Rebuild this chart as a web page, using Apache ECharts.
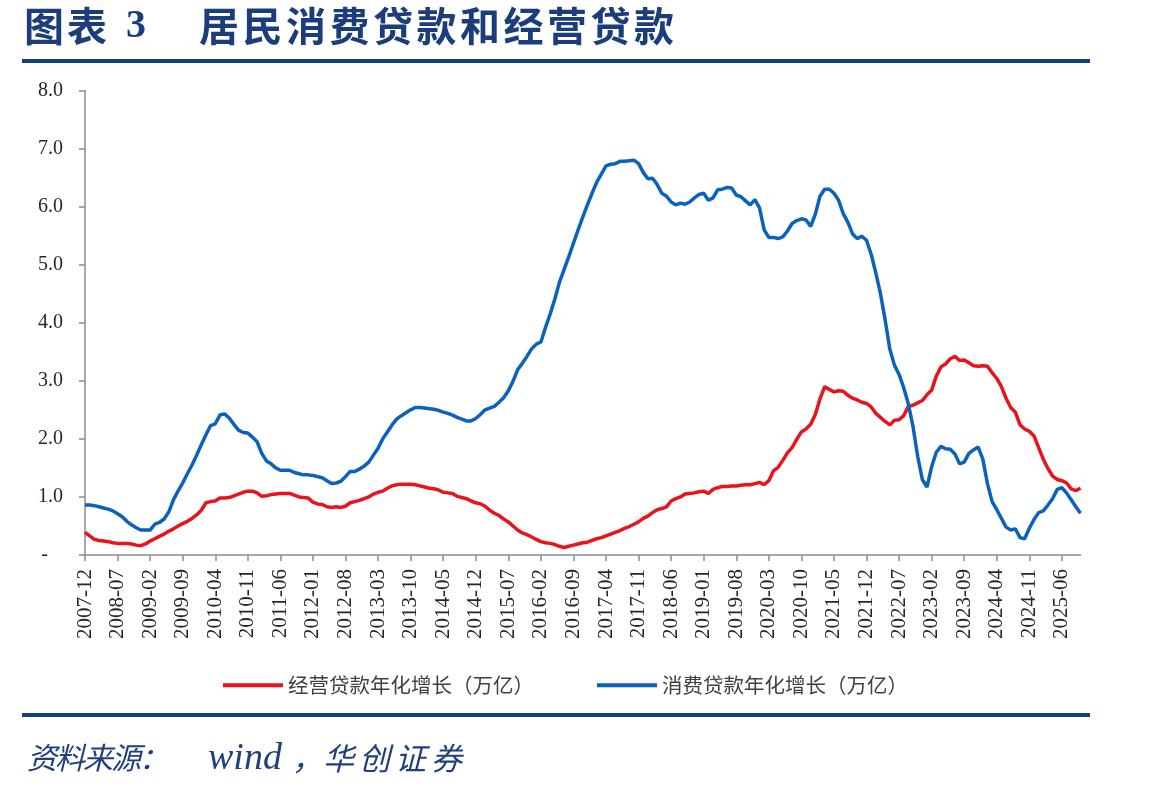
<!DOCTYPE html>
<meta charset="utf-8">
<style>
body { margin: 0; background: #fff; }
#main { position: absolute; left: 0; top: 0; width: 1149px; height: 792px; }
.rule { position: absolute; left: 22px; width: 1068px; height: 4px; background: #133f7f; }
.t { position: absolute; white-space: nowrap; line-height: 1; color: #1b3d7b; }
.title { font-family: "Noto Sans CJK SC"; font-weight: bold; font-size: 40px; top: 4px; }
.src { font-family: "Noto Sans CJK SC"; font-style: italic; color: #1f3f7d; }
</style>

<div id="main"></div>
<div class="t title" style="left:24px; letter-spacing:3px;">图表</div>
<div class="t title" style="left:126px; font-family:'Liberation Serif';">3</div>
<div class="t title" style="left:199px; letter-spacing:3.5px;">居民消费贷款和经营贷款</div>
<div class="rule" style="top:59px;"></div>
<div class="rule" style="top:713px;"></div>
<div class="t src" style="left:27px; top:741px; font-size:30px; letter-spacing:-2px;">资料来源：</div>
<div class="t src" style="left:208px; top:737px; font-size:38px; font-family:'Liberation Serif';">wind</div>
<div class="t src" style="left:292px; top:741px; font-size:31px;">，</div>
<div class="t src" style="left:323px; top:741px; font-size:31px; letter-spacing:5px;">华创证券</div>

<script src="https://cdn.jsdelivr.net/npm/echarts@6/dist/echarts.min.js"></script>
<script>

// 经营贷款年化增长（万亿），2007-12 起按月
var businessLoan = [
    0.39,
    0.33, 0.27, 0.25, 0.24, 0.23, 0.21, 0.20, 0.20, 0.20, 0.19, 0.17, 0.16,
    0.19, 0.24, 0.28, 0.32, 0.36, 0.41, 0.45, 0.50, 0.54, 0.58, 0.63, 0.69,
    0.77, 0.90, 0.92, 0.93, 0.98, 0.98, 0.99, 1.02, 1.05, 1.08, 1.10, 1.10,
    1.07, 1.01, 1.02, 1.04, 1.05, 1.06, 1.06, 1.06, 1.03, 1.00, 0.99, 0.98,
    0.91, 0.88, 0.87, 0.83, 0.82, 0.83, 0.82, 0.84, 0.90, 0.92, 0.94, 0.97,
    1.00, 1.05, 1.08, 1.10, 1.15, 1.19, 1.21, 1.22, 1.22, 1.22, 1.21, 1.19,
    1.17, 1.15, 1.14, 1.12, 1.08, 1.07, 1.06, 1.01, 0.99, 0.97, 0.93, 0.90,
    0.88, 0.84, 0.77, 0.72, 0.68, 0.62, 0.57, 0.50, 0.43, 0.38, 0.35, 0.31,
    0.27, 0.23, 0.21, 0.20, 0.18, 0.15, 0.13, 0.15, 0.17, 0.19, 0.21, 0.22,
    0.25, 0.28, 0.30, 0.33, 0.36, 0.39, 0.42, 0.46, 0.49, 0.53, 0.57, 0.63,
    0.67, 0.73, 0.78, 0.80, 0.83, 0.93, 0.97, 1.00, 1.05, 1.06, 1.07, 1.09,
    1.10, 1.06, 1.13, 1.16, 1.18, 1.18, 1.19, 1.19, 1.20, 1.21, 1.21, 1.23,
    1.25, 1.21, 1.28, 1.45, 1.51, 1.63, 1.76, 1.85, 1.99, 2.12, 2.17, 2.25,
    2.42, 2.69, 2.90, 2.85, 2.81, 2.83, 2.82, 2.75, 2.70, 2.67, 2.63, 2.61,
    2.55, 2.44, 2.37, 2.30, 2.24, 2.32, 2.33, 2.40, 2.56, 2.58, 2.62, 2.66,
    2.76, 2.84, 3.08, 3.24, 3.29, 3.38, 3.42, 3.35, 3.36, 3.31, 3.26, 3.25,
    3.26, 3.25, 3.14, 3.04, 2.90, 2.70, 2.54, 2.46, 2.24, 2.17, 2.13, 2.05,
    1.85, 1.65, 1.49, 1.36, 1.30, 1.28, 1.24, 1.14, 1.11, 1.15
];

// 消费贷款年化增长（万亿）
var consumerLoan = [
    0.86,
    0.86, 0.85, 0.83, 0.81, 0.79, 0.76, 0.71, 0.66, 0.58, 0.52, 0.47, 0.43,
    0.43, 0.43, 0.53, 0.56, 0.62, 0.74, 0.95, 1.10, 1.24, 1.40, 1.55, 1.72,
    1.90, 2.07, 2.23, 2.26, 2.41, 2.43, 2.36, 2.25, 2.15, 2.11, 2.10, 2.03,
    1.95, 1.75, 1.62, 1.57, 1.50, 1.46, 1.46, 1.46, 1.42, 1.40, 1.38, 1.38,
    1.37, 1.35, 1.33, 1.28, 1.23, 1.24, 1.27, 1.35, 1.44, 1.44, 1.48, 1.53,
    1.60, 1.72, 1.84, 2.00, 2.12, 2.24, 2.34, 2.40, 2.45, 2.50, 2.54, 2.54,
    2.53, 2.52, 2.51, 2.49, 2.46, 2.44, 2.41, 2.37, 2.34, 2.31, 2.31, 2.35,
    2.42, 2.50, 2.53, 2.56, 2.63, 2.71, 2.83, 2.99, 3.19, 3.30, 3.42, 3.55,
    3.63, 3.67, 3.92, 4.15, 4.41, 4.70, 4.92, 5.14, 5.37, 5.60, 5.82, 6.03,
    6.23, 6.42, 6.56, 6.70, 6.73, 6.74, 6.78, 6.78, 6.79, 6.80, 6.74, 6.59,
    6.48, 6.49, 6.38, 6.23, 6.18, 6.08, 6.03, 6.06, 6.04, 6.08, 6.15, 6.21,
    6.23, 6.11, 6.15, 6.29, 6.30, 6.33, 6.32, 6.20, 6.17, 6.10, 6.03, 6.12,
    5.98, 5.60, 5.47, 5.47, 5.45, 5.48, 5.58, 5.71, 5.76, 5.79, 5.77, 5.66,
    5.87, 6.18, 6.30, 6.30, 6.23, 6.11, 5.88, 5.73, 5.53, 5.45, 5.49, 5.42,
    5.18, 4.86, 4.50, 4.05, 3.55, 3.27, 3.11, 2.88, 2.60, 2.21, 1.70, 1.30,
    1.17, 1.52, 1.77, 1.87, 1.83, 1.82, 1.74, 1.57, 1.60, 1.75, 1.81, 1.86,
    1.65, 1.23, 0.92, 0.78, 0.63, 0.48, 0.43, 0.45, 0.30, 0.28, 0.46, 0.61,
    0.73, 0.76, 0.86, 0.97, 1.13, 1.16, 1.07, 0.95, 0.83, 0.72
];

var seriesNames = ['经营贷款年化增长（万亿）', '消费贷款年化增长（万亿）'];
var seriesColors = ['#e8131b', '#0a62bd'];

// 月份类目：2007-12 开始
var months = [];
for (var k = 0; k < businessLoan.length; k++) {
    var m = 11 + k;
    var y = 2007 + Math.floor(m / 12);
    var mm = m % 12 + 1;
    months.push(y + '-' + (mm < 10 ? '0' + mm : mm));
}

var axisGray = '#8c8c8c';
var labelFont = 'Liberation Serif';

var chart = echarts.init(document.getElementById('main'));

chart.setOption({
    animation: false,
    grid: {
        left: 85,
        right: 68.5,
        top: 90.5,
        bottom: 237
    },
    legend: {
        left: 218,
        top: 670,
        icon: 'rect',
        itemWidth: 60,
        itemHeight: 4,
        itemGap: 63,
        textStyle: {
            fontFamily: 'Noto Sans CJK SC',
            fontSize: 20.5,
            color: '#404040'
        },
        data: seriesNames
    },
    xAxis: {
        type: 'category',
        data: months,
        boundaryGap: false,
        axisLine: { lineStyle: { color: axisGray, width: 1.5 } },
        axisTick: { interval: 6, length: 6, lineStyle: { color: axisGray, width: 1.5 } },
        axisLabel: {
            interval: 6,
            rotate: 90,
            margin: 14,
            fontFamily: labelFont,
            fontSize: 21,
            color: '#262626'
        }
    },
    yAxis: {
        type: 'value',
        min: 0,
        max: 8,
        interval: 1,
        splitLine: { show: false },
        axisLine: { show: true, lineStyle: { color: axisGray, width: 1.5 } },
        axisTick: { show: true, length: 6, lineStyle: { color: axisGray, width: 1.5 } },
        axisLabel: {
            margin: 22,
            fontFamily: labelFont,
            fontSize: 20,
            color: '#262626',
            formatter: function (v) {
                return v === 0 ? '-\u00a0\u00a0\u00a0' : v.toFixed(1);
            }
        }
    },
    series: [
        {
            name: seriesNames[0],
            type: 'line',
            data: businessLoan,
            showSymbol: false,
            lineStyle: { color: seriesColors[0], width: 3.5 },
            itemStyle: { color: seriesColors[0] }
        },
        {
            name: seriesNames[1],
            type: 'line',
            data: consumerLoan,
            showSymbol: false,
            lineStyle: { color: seriesColors[1], width: 3.5 },
            itemStyle: { color: seriesColors[1] }
        }
    ]
});

</script>
